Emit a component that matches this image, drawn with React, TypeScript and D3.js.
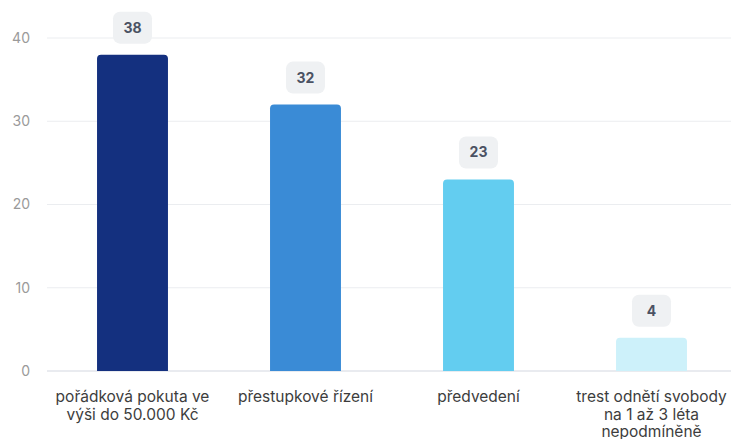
import * as d3 from "d3";
import React from "react";

const categories = [
  ["pořádková pokuta ve", "výši do 50.000 Kč"],
  ["přestupkové řízení"],
  ["předvedení"],
  ["trest odnětí svobody", "na 1 až 3 léta", "nepodmíněně"],
];
const values = [38, 32, 23, 4];
const colors = ["#14307f", "#3a8bd6", "#63cdf0", "#cdf1fa"];
const yTicks = [0, 10, 20, 30, 40];

const W = 731;
const H = 439;

export default function App() {
  const x = d3
    .scaleBand<number>()
    .domain(values.map((_, i) => i))
    .range([46, 738])
    .paddingInner(0.59)
    .paddingOuter(0.295);
  const y = d3.scaleLinear().domain([0, 40]).range([371, 38]);
  const bw = x.bandwidth();
  const r = 4;

  return (
    <svg
      width={W}
      height={H}
      style={{ position: "absolute", left: 0, top: 0, background: "#fff", fontFamily: "Inter, sans-serif" }}
    >
      {yTicks.map(t => (
        <g key={t}>
          <line x1={47} x2={W} y1={y(t)} y2={y(t)} stroke={t === 0 ? "#d3d7e0" : "#ebedf0"} strokeWidth={1} />
          <text x={30} y={y(t)} dy="0.35em" textAnchor="end" fontSize={14} fill="#9a9a9a">
            {t}
          </text>
        </g>
      ))}
      {values.map((v, i) => {
        const x0 = x(i)!;
        const yt = y(v);
        const yb = y(0);
        const path = `M${x0},${yb} V${yt + r} Q${x0},${yt} ${x0 + r},${yt} H${x0 + bw - r} Q${x0 + bw},${yt} ${x0 + bw},${yt + r} V${yb} Z`;
        const cx = x0 + bw / 2;
        return (
          <g key={i}>
            <path d={path} fill={colors[i]} />
            <rect x={cx - 19.5} y={yt - 43} width={39} height={32} rx={7} fill="#eff1f3" />
            <text x={cx} y={yt - 27} dy="0.35em" textAnchor="middle" fontSize={14} fontWeight={700} fill="#4b5263">
              {v}
            </text>
            {categories[i].map((line, j) => (
              <text key={j} x={cx} y={397 + j * 17.5} dy="0.35em" textAnchor="middle" fontSize={15.5} fill="#3d3d3d">
                {line}
              </text>
            ))}
          </g>
        );
      })}
    </svg>
  );
}
